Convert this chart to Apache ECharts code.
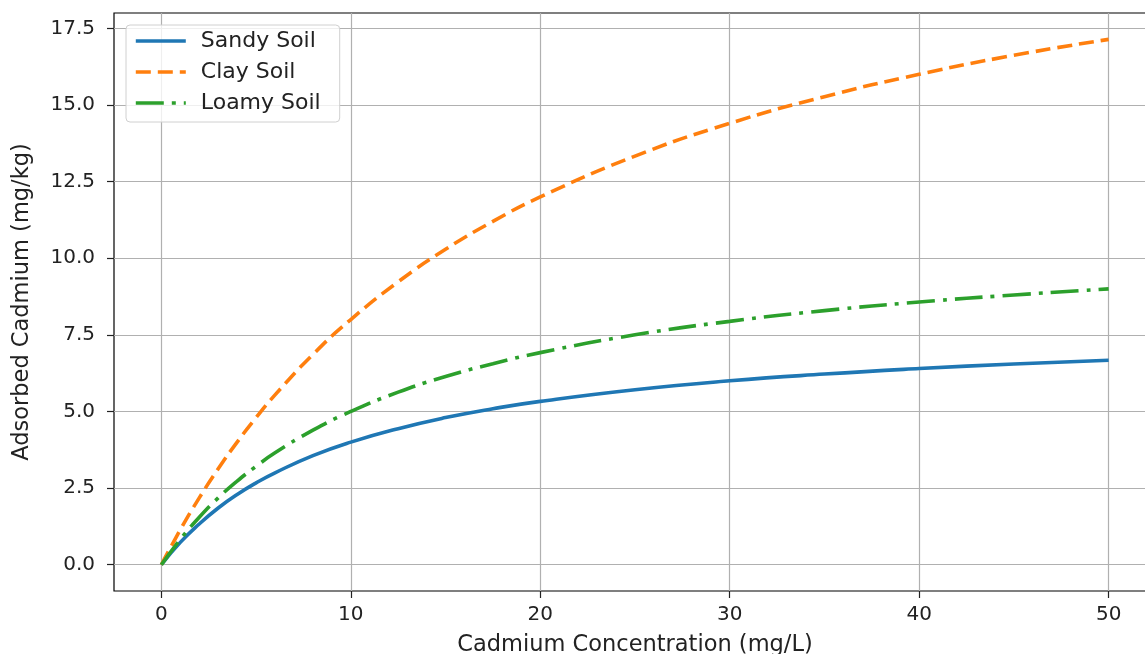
<!DOCTYPE html>
<html>
<head>
<meta charset="utf-8">
<script src="https://cdn.jsdelivr.net/npm/echarts@6/dist/echarts.min.js"></script>
<style>
  html, body { margin: 0; padding: 0; background: #fff; overflow: hidden; }
  #main { width: 1145px; height: 654px; }
</style>
</head>
<body>
<div id="main"></div>
<script>
// concentration (mg/L) and adsorbed amounts (mg/kg)
var conc  = [0, 1, 2, 3, 4, 5, 6, 8, 10, 12.5, 15, 17.5, 20, 25, 30, 35, 40, 45, 50];
var sandy = [0, 0.73, 1.33, 1.85, 2.29, 2.67, 3.00, 3.56, 4.00, 4.44, 4.80, 5.09, 5.33, 5.71, 6.00, 6.22, 6.40, 6.55, 6.67];
var clay  = [0, 1.14, 2.18, 3.13, 4.00, 4.80, 5.54, 6.86, 8.00, 9.23, 10.29, 11.20, 12.00, 13.33, 14.40, 15.27, 16.00, 16.62, 17.14];
var loamy = [0, 0.83, 1.55, 2.18, 2.73, 3.21, 3.65, 4.39, 5.00, 5.63, 6.14, 6.56, 6.92, 7.50, 7.94, 8.29, 8.57, 8.80, 9.00];

var xTicks = [0, 10, 20, 30, 40, 50];
var yTicks = [0, 2.5, 5, 7.5, 10, 12.5, 15, 17.5];

function pairs(ys) {
  return conc.map(function (c, i) { return [c, ys[i]]; });
}

var font = 'DejaVu Sans';
var chart = echarts.init(document.getElementById('main'));
chart.setOption({
  animation: false,
  backgroundColor: '#fff',
  // the plot runs past the right edge of the picture, as in the original crop
  grid: {
    left: 114, right: -11, top: 13, bottom: 63,
    outerBoundsMode: 'none', containLabel: false,
    show: true, borderColor: '#000', borderWidth: 1.2, backgroundColor: 'transparent'
  },
  legend: {
    orient: 'vertical', left: 126, top: 25,
    padding: [5, 19, 8, 8],
    itemWidth: 50, itemHeight: 14, itemGap: 9,
    backgroundColor: 'rgba(255,255,255,0.8)',
    borderColor: '#d0d0d0', borderWidth: 1, borderRadius: 4,
    itemStyle: { opacity: 0 },
    lineStyle: { width: 3.6 },
    textStyle: { fontFamily: font, fontSize: 22, lineHeight: 22, color: '#222', padding: [0, 0, 0, 10] },
    data: ['Sandy Soil', 'Clay Soil', 'Loamy Soil']
  },
  xAxis: {
    type: 'value', min: -2.5, max: 52.5,
    name: 'Cadmium Concentration (mg/L)', nameLocation: 'middle', nameGap: 43,
    nameTextStyle: { fontFamily: font, fontSize: 22.5, color: '#222' },
    axisLine: { show: false, onZero: false },
    axisTick: { show: true, length: 7, customValues: xTicks, lineStyle: { color: '#222', width: 1.2 } },
    axisLabel: { customValues: xTicks, fontFamily: font, fontSize: 20, color: '#222', margin: 14 },
    splitLine: { show: true, lineStyle: { color: '#b0b0b0', width: 1.2 } }
  },
  yAxis: {
    type: 'value', min: -0.857, max: 18.0,
    name: 'Adsorbed Cadmium (mg/kg)', nameLocation: 'middle', nameGap: 80,
    nameTextStyle: { fontFamily: font, fontSize: 22.5, color: '#222' },
    axisLine: { show: false, onZero: false },
    axisTick: { show: true, length: 7, customValues: yTicks, lineStyle: { color: '#222', width: 1.2 } },
    axisLabel: {
      customValues: yTicks, fontFamily: font, fontSize: 20, color: '#222', margin: 19,
      formatter: function (v) { return v.toFixed(1); }
    },
    splitLine: { show: true, lineStyle: { color: '#b0b0b0', width: 1.2 } }
  },
  series: [
    {
      name: 'Sandy Soil', type: 'line', smooth: true, symbol: 'none',
      data: pairs(sandy), color: '#1f77b4',
      lineStyle: { width: 3.6, color: '#1f77b4' }
    },
    {
      name: 'Clay Soil', type: 'line', smooth: true, symbol: 'none',
      data: pairs(clay), color: '#ff7f0e',
      lineStyle: { width: 3.6, color: '#ff7f0e', type: [15, 7] }
    },
    {
      name: 'Loamy Soil', type: 'line', smooth: true, symbol: 'none',
      data: pairs(loamy), color: '#2ca02c',
      lineStyle: { width: 3.6, color: '#2ca02c', type: [28, 8, 4, 8] }
    }
  ]
});
</script>
</body>
</html>
